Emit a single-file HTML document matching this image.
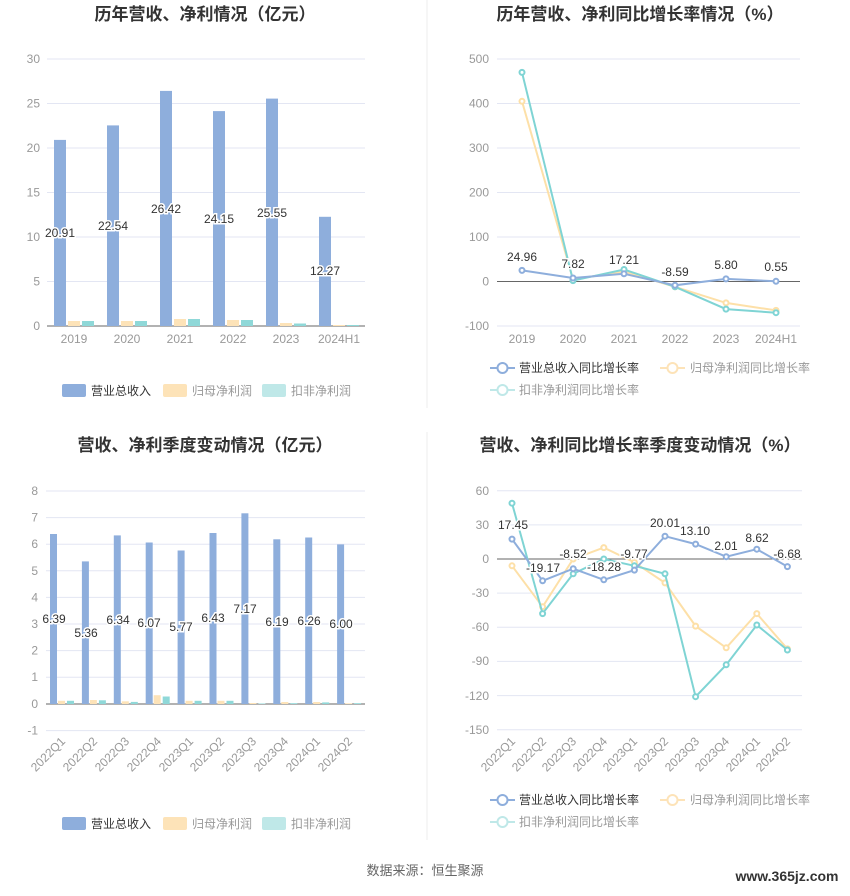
<!DOCTYPE html>
<html><head><meta charset="utf-8"><style>
body{margin:0;background:#fff;width:850px;height:891px;overflow:hidden}
svg{font-family:"Liberation Sans","Noto Sans CJK SC",sans-serif}
.t{font-size:17px;font-weight:bold;fill:#333;text-anchor:middle}
.ax{font-size:12px;fill:#999;text-anchor:end}
.cx{font-size:12px;fill:#999;text-anchor:middle}
.g{stroke:#e3e6f3;stroke-width:1}
.lb{font-size:12px;fill:#333;text-anchor:middle;paint-order:stroke;stroke:#fff;stroke-width:3px}
.lg{font-size:12px;fill:#333}
.lg2{font-size:12px;fill:#999}
</style></head><body>
<svg width="850" height="891" viewBox="0 0 850 891">
<line x1="427" y1="0" x2="427" y2="408" stroke="#eee"/>
<line x1="427" y1="432" x2="427" y2="840" stroke="#eee"/>
<text class="t" x="205" y="20">历年营收、净利情况（亿元）</text>
<text class="t" x="640" y="20">历年营收、净利同比增长率情况（%）</text>
<text class="t" x="205" y="451">营收、净利季度变动情况（亿元）</text>
<text class="t" x="640" y="451">营收、净利同比增长率季度变动情况（%）</text>

<!-- chart1 -->
<g class="g">
<line x1="47" x2="365" y1="59" y2="59"/><line x1="47" x2="365" y1="103.5" y2="103.5"/><line x1="47" x2="365" y1="148" y2="148"/><line x1="47" x2="365" y1="192.5" y2="192.5"/><line x1="47" x2="365" y1="237" y2="237"/><line x1="47" x2="365" y1="281.5" y2="281.5"/>
</g>
<line x1="47" x2="365" y1="326" y2="326" stroke="#666"/>
<g class="ax"><text x="40" y="63">30</text><text x="40" y="107.5">25</text><text x="40" y="152">20</text><text x="40" y="196.5">15</text><text x="40" y="241">10</text><text x="40" y="285.5">5</text><text x="40" y="330">0</text></g>
<g class="cx"><text x="74" y="343">2019</text><text x="127" y="343">2020</text><text x="180" y="343">2021</text><text x="233" y="343">2022</text><text x="286" y="343">2023</text><text x="339" y="343">2024H1</text></g>
<g fill="#8eaedc">
<rect x="54" y="139.9" width="12" height="186.1"/><rect x="107" y="125.4" width="12" height="200.6"/><rect x="160" y="90.9" width="12" height="235.1"/><rect x="213" y="111.1" width="12" height="214.9"/><rect x="266" y="98.6" width="12" height="227.4"/><rect x="319" y="216.8" width="12" height="109.2"/>
</g>
<g fill="#fde3b8">
<rect x="68" y="321" width="12" height="5"/><rect x="121" y="321" width="12" height="5"/><rect x="174" y="319" width="12" height="7"/><rect x="227" y="320" width="12" height="6"/><rect x="280" y="323" width="12" height="3"/><rect x="333" y="325" width="12" height="1"/>
</g>
<g fill="#8fd8d8">
<rect x="82" y="321" width="12" height="5"/><rect x="135" y="321" width="12" height="5"/><rect x="188" y="319" width="12" height="7"/><rect x="241" y="320" width="12" height="6"/><rect x="294" y="323.5" width="12" height="2.5"/><rect x="347" y="325" width="12" height="1"/>
</g>
<g class="lb"><text x="60" y="237">20.91</text><text x="113" y="230">22.54</text><text x="166" y="213">26.42</text><text x="219" y="223">24.15</text><text x="272" y="217">25.55</text><text x="325" y="275">12.27</text></g>
<rect x="62" y="384" width="24" height="13" rx="2" fill="#8eaedc"/><text class="lg" x="91" y="395">营业总收入</text>
<rect x="163" y="384" width="24" height="13" rx="2" fill="#fde3b8"/><text class="lg2" x="192" y="395">归母净利润</text>
<rect x="262" y="384" width="24" height="13" rx="2" fill="#bfe8e8"/><text class="lg2" x="291" y="395">扣非净利润</text>

<!-- chart2 -->
<g class="g">
<line x1="497" x2="800" y1="59" y2="59"/><line x1="497" x2="800" y1="103.5" y2="103.5"/><line x1="497" x2="800" y1="148" y2="148"/><line x1="497" x2="800" y1="192.5" y2="192.5"/><line x1="497" x2="800" y1="237" y2="237"/><line x1="497" x2="800" y1="326" y2="326"/>
</g>
<line x1="497" x2="800" y1="281.5" y2="281.5" stroke="#666"/>
<g class="ax"><text x="489" y="63">500</text><text x="489" y="107.5">400</text><text x="489" y="152">300</text><text x="489" y="196.5">200</text><text x="489" y="241">100</text><text x="489" y="285.5">0</text><text x="489" y="330">-100</text></g>
<g class="cx"><text x="522" y="343">2019</text><text x="573" y="343">2020</text><text x="624" y="343">2021</text><text x="675" y="343">2022</text><text x="726" y="343">2023</text><text x="776" y="343">2024H1</text></g>
<g fill="#fff" stroke-width="2">
<polyline stroke="#fde0a8" fill="none" points="522,101.3 573,279.3 624,271.7 675,286.8 726,302.9 776,310.4"/>
<g stroke="#fde0a8"><circle cx="522" cy="101.3" r="2.5"/><circle cx="573" cy="279.3" r="2.5"/><circle cx="624" cy="271.7" r="2.5"/><circle cx="675" cy="286.8" r="2.5"/><circle cx="726" cy="302.9" r="2.5"/><circle cx="776" cy="310.4" r="2.5"/></g>
<polyline stroke="#7fd4d4" fill="none" points="522,72.4 573,280.6 624,269.5 675,286.8 726,309.1 776,312.7"/>
<g stroke="#7fd4d4"><circle cx="522" cy="72.4" r="2.5"/><circle cx="573" cy="280.6" r="2.5"/><circle cx="624" cy="269.5" r="2.5"/><circle cx="675" cy="286.8" r="2.5"/><circle cx="726" cy="309.1" r="2.5"/><circle cx="776" cy="312.7" r="2.5"/></g>
<polyline stroke="#8eaedc" fill="none" points="522,270.4 573,278 624,273.8 675,285.3 726,278.9 776,281.3"/>
<g stroke="#8eaedc"><circle cx="522" cy="270.4" r="2.5"/><circle cx="573" cy="278" r="2.5"/><circle cx="624" cy="273.8" r="2.5"/><circle cx="675" cy="285.3" r="2.5"/><circle cx="726" cy="278.9" r="2.5"/><circle cx="776" cy="281.3" r="2.5"/></g>
</g>
<g class="lb"><text x="522" y="261">24.96</text><text x="573" y="268">7.82</text><text x="624" y="264">17.21</text><text x="675" y="276">-8.59</text><text x="726" y="269">5.80</text><text x="776" y="271">0.55</text></g>
<g stroke-width="2" fill="#fff">
<line x1="490" x2="515" y1="368" y2="368" stroke="#8eaedc"/><circle cx="502.5" cy="368" r="5" stroke="#8eaedc"/>
<line x1="660" x2="685" y1="368" y2="368" stroke="#fde3b8"/><circle cx="672.5" cy="368" r="5" stroke="#fde3b8"/>
<line x1="490" x2="515" y1="390" y2="390" stroke="#bfe8e8"/><circle cx="502.5" cy="390" r="5" stroke="#bfe8e8"/>
</g>
<text class="lg" x="519" y="372">营业总收入同比增长率</text>
<text class="lg2" x="690" y="372">归母净利润同比增长率</text>
<text class="lg2" x="519" y="394">扣非净利润同比增长率</text>

<!-- chart3 -->
<g class="g">
<line x1="46" x2="365" y1="491" y2="491"/><line x1="46" x2="365" y1="517.6" y2="517.6"/><line x1="46" x2="365" y1="544.2" y2="544.2"/><line x1="46" x2="365" y1="570.8" y2="570.8"/><line x1="46" x2="365" y1="597.4" y2="597.4"/><line x1="46" x2="365" y1="624" y2="624"/><line x1="46" x2="365" y1="650.6" y2="650.6"/><line x1="46" x2="365" y1="677.2" y2="677.2"/><line x1="46" x2="365" y1="730.6" y2="730.6"/>
</g>
<line x1="46" x2="365" y1="704" y2="704" stroke="#666"/>
<g class="ax"><text x="38" y="495">8</text><text x="38" y="521.6">7</text><text x="38" y="548.2">6</text><text x="38" y="574.8">5</text><text x="38" y="601.4">4</text><text x="38" y="628">3</text><text x="38" y="654.6">2</text><text x="38" y="681.2">1</text><text x="38" y="708">0</text><text x="38" y="734.6">-1</text></g>
<g class="ax">
<text transform="translate(66,742) rotate(-45)">2022Q1</text><text transform="translate(98,742) rotate(-45)">2022Q2</text><text transform="translate(130,742) rotate(-45)">2022Q3</text><text transform="translate(162,742) rotate(-45)">2022Q4</text><text transform="translate(194,742) rotate(-45)">2023Q1</text><text transform="translate(225,742) rotate(-45)">2023Q2</text><text transform="translate(257,742) rotate(-45)">2023Q3</text><text transform="translate(289,742) rotate(-45)">2023Q4</text><text transform="translate(321,742) rotate(-45)">2024Q1</text><text transform="translate(353,742) rotate(-45)">2024Q2</text>
</g>
<g fill="#8eaedc">
<rect x="50" y="534" width="7" height="170"/><rect x="81.9" y="561.4" width="7" height="142.6"/><rect x="113.8" y="535.4" width="7" height="168.6"/><rect x="145.7" y="542.5" width="7" height="161.5"/><rect x="177.6" y="550.5" width="7" height="153.5"/><rect x="209.5" y="533" width="7" height="171"/><rect x="241.4" y="513.3" width="7" height="190.7"/><rect x="273.3" y="539.3" width="7" height="164.7"/><rect x="305.2" y="537.5" width="7" height="166.5"/><rect x="337.1" y="544.4" width="7" height="159.6"/>
</g>
<g fill="#fde3b8">
<rect x="58" y="700.8" width="7" height="3.2"/><rect x="89.9" y="700" width="7" height="4"/><rect x="121.8" y="701.3" width="7" height="2.7"/><rect x="153.7" y="695.2" width="7" height="8.8"/><rect x="185.6" y="700.8" width="7" height="3.2"/><rect x="217.5" y="700.8" width="7" height="3.2"/><rect x="249.4" y="703" width="7" height="1"/><rect x="281.3" y="702" width="7" height="2"/><rect x="313.2" y="702" width="7" height="2"/><rect x="345.1" y="703.3" width="7" height=".7"/>
</g>
<g fill="#8fd8d8">
<rect x="67" y="700.8" width="7" height="3.2"/><rect x="98.9" y="700.3" width="7" height="3.7"/><rect x="130.8" y="701.9" width="7" height="2.1"/><rect x="162.7" y="696.5" width="7" height="7.5"/><rect x="194.6" y="700.8" width="7" height="3.2"/><rect x="226.5" y="700.8" width="7" height="3.2"/><rect x="258.4" y="703.5" width="7" height=".5"/><rect x="290.3" y="703.2" width="7" height=".8"/><rect x="322.2" y="702.4" width="7" height="1.6"/><rect x="354.1" y="703.2" width="7" height=".8"/>
</g>
<g class="lb"><text x="54" y="623">6.39</text><text x="86" y="637">5.36</text><text x="118" y="624">6.34</text><text x="149" y="627">6.07</text><text x="181" y="631">5.77</text><text x="213" y="622">6.43</text><text x="245" y="613">7.17</text><text x="277" y="626">6.19</text><text x="309" y="625">6.26</text><text x="341" y="628">6.00</text></g>
<rect x="62" y="817" width="24" height="13" rx="2" fill="#8eaedc"/><text class="lg" x="91" y="828">营业总收入</text>
<rect x="163" y="817" width="24" height="13" rx="2" fill="#fde3b8"/><text class="lg2" x="192" y="828">归母净利润</text>
<rect x="262" y="817" width="24" height="13" rx="2" fill="#bfe8e8"/><text class="lg2" x="291" y="828">扣非净利润</text>

<!-- chart4 -->
<g class="g">
<line x1="497" x2="802" y1="490.7" y2="490.7"/><line x1="497" x2="802" y1="524.9" y2="524.9"/><line x1="497" x2="802" y1="593.1" y2="593.1"/><line x1="497" x2="802" y1="627.3" y2="627.3"/><line x1="497" x2="802" y1="661.4" y2="661.4"/><line x1="497" x2="802" y1="695.6" y2="695.6"/><line x1="497" x2="802" y1="729.7" y2="729.7"/>
</g>
<line x1="497" x2="802" y1="559" y2="559" stroke="#666"/>
<g class="ax"><text x="489" y="495">60</text><text x="489" y="529">30</text><text x="489" y="563">0</text><text x="489" y="597">-30</text><text x="489" y="631">-60</text><text x="489" y="665">-90</text><text x="489" y="700">-120</text><text x="489" y="734">-150</text></g>
<g class="ax">
<text transform="translate(516,742) rotate(-45)">2022Q1</text><text transform="translate(547,742) rotate(-45)">2022Q2</text><text transform="translate(577,742) rotate(-45)">2022Q3</text><text transform="translate(608,742) rotate(-45)">2022Q4</text><text transform="translate(638,742) rotate(-45)">2023Q1</text><text transform="translate(669,742) rotate(-45)">2023Q2</text><text transform="translate(700,742) rotate(-45)">2023Q3</text><text transform="translate(730,742) rotate(-45)">2023Q4</text><text transform="translate(761,742) rotate(-45)">2024Q1</text><text transform="translate(791,742) rotate(-45)">2024Q2</text>
</g>
<g fill="#fff" stroke-width="2">
<polyline stroke="#fde0a8" fill="none" points="512,565.8 542.6,606.8 573.2,559 603.8,547.6 634.4,562.4 665,582.9 695.6,626.1 726.2,647.8 756.8,613.6 787.4,648.9"/>
<g stroke="#fde0a8"><circle cx="512" cy="565.8" r="2.5"/><circle cx="542.6" cy="606.8" r="2.5"/><circle cx="573.2" cy="559" r="2.5"/><circle cx="603.8" cy="547.6" r="2.5"/><circle cx="634.4" cy="562.4" r="2.5"/><circle cx="665" cy="582.9" r="2.5"/><circle cx="695.6" cy="626.1" r="2.5"/><circle cx="726.2" cy="647.8" r="2.5"/><circle cx="756.8" cy="613.6" r="2.5"/><circle cx="787.4" cy="648.9" r="2.5"/></g>
<polyline stroke="#7fd4d4" fill="none" points="512,503.2 542.6,613.6 573.2,573.8 603.8,559 634.4,565.8 665,573.8 695.6,696.7 726.2,664.8 756.8,625 787.4,650"/>
<g stroke="#7fd4d4"><circle cx="512" cy="503.2" r="2.5"/><circle cx="542.6" cy="613.6" r="2.5"/><circle cx="573.2" cy="573.8" r="2.5"/><circle cx="603.8" cy="559" r="2.5"/><circle cx="634.4" cy="565.8" r="2.5"/><circle cx="665" cy="573.8" r="2.5"/><circle cx="695.6" cy="696.7" r="2.5"/><circle cx="726.2" cy="664.8" r="2.5"/><circle cx="756.8" cy="625" r="2.5"/><circle cx="787.4" cy="650" r="2.5"/></g>
<polyline stroke="#8eaedc" fill="none" points="512,539.1 542.6,580.8 573.2,568.7 603.8,579.8 634.4,570.1 665,536.2 695.6,544.1 726.2,556.7 756.8,549.2 787.4,566.6"/>
<g stroke="#8eaedc"><circle cx="512" cy="539.1" r="2.5"/><circle cx="542.6" cy="580.8" r="2.5"/><circle cx="573.2" cy="568.7" r="2.5"/><circle cx="603.8" cy="579.8" r="2.5"/><circle cx="634.4" cy="570.1" r="2.5"/><circle cx="665" cy="536.2" r="2.5"/><circle cx="695.6" cy="544.1" r="2.5"/><circle cx="726.2" cy="556.7" r="2.5"/><circle cx="756.8" cy="549.2" r="2.5"/><circle cx="787.4" cy="566.6" r="2.5"/></g>
</g>
<g class="lb"><text x="513" y="529">17.45</text><text x="543" y="572">-19.17</text><text x="573" y="558">-8.52</text><text x="604" y="571">-18.28</text><text x="634" y="558">-9.77</text><text x="665" y="527">20.01</text><text x="695" y="535">13.10</text><text x="726" y="550">2.01</text><text x="757" y="542">8.62</text><text x="787" y="558">-6.68</text></g>
<g stroke-width="2" fill="#fff">
<line x1="490" x2="515" y1="800" y2="800" stroke="#8eaedc"/><circle cx="502.5" cy="800" r="5" stroke="#8eaedc"/>
<line x1="660" x2="685" y1="800" y2="800" stroke="#fde3b8"/><circle cx="672.5" cy="800" r="5" stroke="#fde3b8"/>
<line x1="490" x2="515" y1="822" y2="822" stroke="#bfe8e8"/><circle cx="502.5" cy="822" r="5" stroke="#bfe8e8"/>
</g>
<text class="lg" x="519" y="804">营业总收入同比增长率</text>
<text class="lg2" x="690" y="804">归母净利润同比增长率</text>
<text class="lg2" x="519" y="826">扣非净利润同比增长率</text>

<text x="425" y="875" style="font-size:13px;fill:#666;text-anchor:middle">数据来源：恒生聚源</text>
<text x="787" y="881" style="font-size:14px;font-weight:bold;fill:#333;text-anchor:middle">www.365jz.com</text>
</svg>
</body></html>
